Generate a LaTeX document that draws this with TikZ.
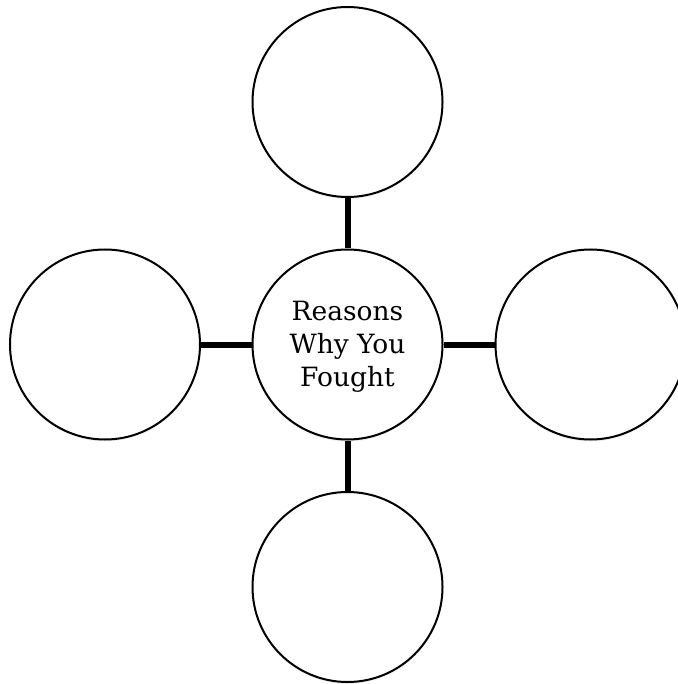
\documentclass[tikz,border=0pt]{standalone}
\usepackage{fontspec}
\setmainfont{DejaVu Serif}
\usetikzlibrary{shadows}
\begin{document}
\begin{tikzpicture}[x=1pt,y=-1pt,
  bubble/.style={circle,draw=black,line width=2pt,fill=white,minimum size=190pt,inner sep=0pt,
    drop shadow={opacity=0.12,shadow xshift=0pt,shadow yshift=-2pt}},
  link/.style={line width=6pt,black}]
\useasboundingbox (0,0) rectangle (677,684);
\node[bubble] (c) at (347.5,344.5) {};
\node[bubble] (t) at (347.5,102) {};
\node[bubble] (b) at (347.5,587) {};
\node[bubble] (l) at (105,344.5) {};
\node[bubble] (r) at (590.5,344.5) {};
\node[align=center,font=\fontsize{26.5}{33}\selectfont] (lbl) at (347.5,347) {Reasons\\Why You\\Fought};
\draw[link] (t.south) -- (c.north);
\draw[link] (c.south) -- (b.north);
\draw[link] (l.east) -- (c.west);
\draw[link] (c.east) -- (r.west);
\end{tikzpicture}
\end{document}
